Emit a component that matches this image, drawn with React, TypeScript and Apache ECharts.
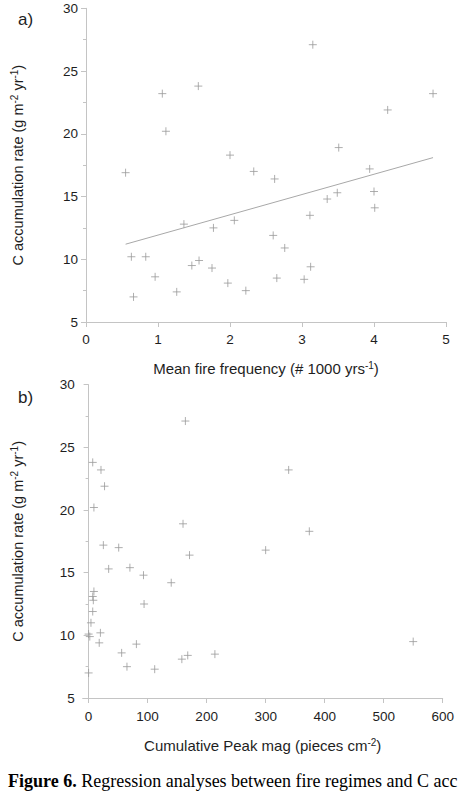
import React, { useEffect, useRef } from "react";
import * as echarts from "echarts";

// Panel a: mean fire frequency vs. C accumulation rate
const fireFreq = [
  0.55, 0.63, 0.66, 0.83, 0.96, 1.06, 1.11, 1.26, 1.36, 1.47, 1.56, 1.57, 1.75, 1.77, 1.97, 2.0, 2.06, 2.22,
  2.33, 2.6, 2.62, 2.65, 2.76, 3.03, 3.11, 3.12, 3.15, 3.35, 3.49, 3.51, 3.94, 4.0, 4.01, 4.19, 4.82,
];
const accRateA = [
  16.9, 10.2, 7.0, 10.2, 8.6, 23.2, 20.2, 7.4, 12.8, 9.5, 23.8, 9.9, 9.3, 12.5, 8.1, 18.3, 13.1, 7.5,
  17.0, 11.9, 16.4, 8.5, 10.9, 8.4, 13.5, 9.4, 27.1, 14.8, 15.3, 18.9, 17.2, 15.4, 14.1, 21.9, 23.2,
];
// Fitted regression line end points
const trendX = [0.55, 4.82];
const trendY = [11.2, 18.1];

// Panel b: cumulative peak magnitude vs. C accumulation rate
const peakMag = [
  164, 7, 21, 27, 9, 339, 160, 374, 171, 300, 25, 51, 34, 70, 93, 140, 9, 7, 8, 94, 7, 4, 0, 2, 20, 18,
  81, 56, 65, 112, 158, 168, 214, 550, 0,
];
const accRateB = [
  27.1, 23.8, 23.2, 21.9, 20.2, 23.2, 18.9, 18.3, 16.4, 16.8, 17.2, 17.0, 15.3, 15.4, 14.8, 14.2, 13.5,
  13.1, 12.8, 12.5, 11.9, 11.0, 10.1, 9.9, 10.2, 9.4, 9.3, 8.6, 7.5, 7.3, 8.1, 8.4, 8.5, 9.5, 7.0,
];

const yTicks = [5, 10, 15, 20, 25, 30];
const xTicksA = [0, 1, 2, 3, 4, 5];
const xTicksB = [0, 100, 200, 300, 400, 500, 600];

const SANS = "'Liberation Sans', Arial, sans-serif";
const SERIF = "'Liberation Serif', 'Times New Roman', serif";
const AXIS_GREY = "#c4c4c4";
const TEXT = "#1e1e1e";
const MARK = "#9a9a9a";
const CROSS = "path://M5,0L5,10M0,5L10,5";

function nameStyle(size: number) {
  return {
    fontFamily: SANS,
    fontSize: size,
    color: TEXT,
    lineHeight: 17,
    rich: {
      s: { fontFamily: SANS, fontSize: 10, color: TEXT, lineHeight: 10, verticalAlign: "top" },
    },
  };
}

function yAxisFor(gridIndex: number, gap: number) {
  return {
    type: "value",
    gridIndex,
    min: yTicks[0],
    max: yTicks[yTicks.length - 1],
    interval: 5,
    name: "C accumulation rate (g m{s|-2} yr{s|-1})",
    nameLocation: "middle",
    nameGap: gap,
    nameTextStyle: nameStyle(14.5),
    axisLine: { show: true, lineStyle: { color: AXIS_GREY, width: 1 } },
    axisTick: { show: true, length: 5, lineStyle: { color: AXIS_GREY } },
    minorTick: { show: true, splitNumber: 2, length: 3, lineStyle: { color: AXIS_GREY } },
    splitLine: { show: false },
    axisLabel: { fontFamily: SANS, fontSize: 13.5, color: TEXT, margin: 8 },
  };
}

export default function App() {
  const ref = useRef<HTMLDivElement>(null);

  useEffect(() => {
    if (!ref.current) return;
    const chart = echarts.init(ref.current, null, { renderer: "svg" });
    const ptsA = fireFreq.map((x, i) => [x, accRateA[i]]);
    const ptsB = peakMag.map((x, i) => [x, accRateB[i]]);
    const trend = trendX.map((x, i) => [x, trendY[i]]);

    chart.setOption({
      animation: false,
      backgroundColor: "#ffffff",
      grid: [
        { left: 86, right: 12, top: 8.3, height: 313.7 },
        { left: 82.7, right: 15.3, top: 384.7, height: 313.3 },
      ],
      xAxis: [
        {
          type: "value",
          gridIndex: 0,
          min: xTicksA[0],
          max: xTicksA[xTicksA.length - 1],
          interval: 1,
          name: "Mean fire frequency (# 1000 yrs{s|-1})",
          nameLocation: "middle",
          nameGap: 38,
          nameTextStyle: nameStyle(15),
          axisLine: { show: true, lineStyle: { color: AXIS_GREY, width: 1 } },
          axisTick: { show: true, length: 5, lineStyle: { color: AXIS_GREY } },
          splitLine: { show: false },
          axisLabel: { fontFamily: SANS, fontSize: 13.5, color: TEXT, margin: 10 },
        },
        {
          type: "value",
          gridIndex: 1,
          min: -10,
          max: 600,
          name: "Cumulative Peak mag (pieces cm{s|-2})",
          nameLocation: "middle",
          nameGap: 39,
          nameTextStyle: nameStyle(15),
          axisLine: { show: true, lineStyle: { color: AXIS_GREY, width: 1 } },
          axisTick: { show: true, length: 5, customValues: xTicksB, lineStyle: { color: AXIS_GREY } },
          splitLine: { show: false },
          axisLabel: { fontFamily: SANS, fontSize: 13.5, color: TEXT, margin: 11, customValues: xTicksB },
        },
      ],
      yAxis: [yAxisFor(0, 60), yAxisFor(1, 56)],
      series: [
        {
          type: "scatter",
          xAxisIndex: 0,
          yAxisIndex: 0,
          data: ptsA,
          symbol: CROSS,
          symbolSize: 8,
          itemStyle: { color: "rgba(0,0,0,0)", borderColor: MARK, borderWidth: 1 },
        },
        {
          type: "line",
          xAxisIndex: 0,
          yAxisIndex: 0,
          data: trend,
          showSymbol: false,
          symbol: "none",
          lineStyle: { color: "#a8a8a8", width: 1 },
        },
        {
          type: "scatter",
          xAxisIndex: 1,
          yAxisIndex: 1,
          data: ptsB,
          symbol: CROSS,
          symbolSize: 8,
          itemStyle: { color: "rgba(0,0,0,0)", borderColor: MARK, borderWidth: 1 },
        },
      ],
      graphic: [
        {
          type: "text",
          x: 18,
          y: 19,
          style: { text: "a)", font: `17px ${SANS}`, fill: TEXT, verticalAlign: "middle" },
        },
        {
          type: "text",
          x: 18,
          y: 397,
          style: { text: "b)", font: `17px ${SANS}`, fill: TEXT, verticalAlign: "middle" },
        },
        {
          type: "text",
          x: 8,
          y: 780.5,
          style: {
            text: "{b|Figure 6.} Regression analyses between fire regimes and C acc",
            font: `18px ${SERIF}`,
            fill: "#000",
            verticalAlign: "middle",
            rich: {
              b: { fontFamily: SERIF, fontSize: 18, fontWeight: "bold", fill: "#000" },
            },
          },
        },
      ],
    });
    return () => chart.dispose();
  }, []);

  return (
    <div
      ref={ref}
      style={{ position: "absolute", left: 0, top: 0, width: 458, height: 791, background: "#fff" }}
    />
  );
}
